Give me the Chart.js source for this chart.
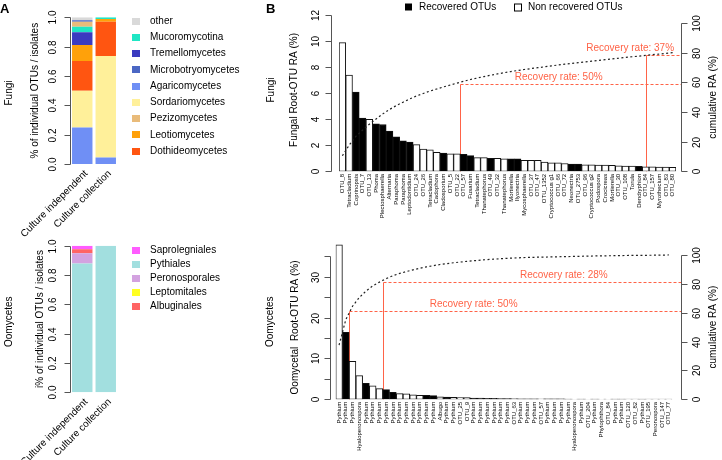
<!DOCTYPE html>
<html>
<head>
<meta charset="utf-8">
<script src="https://cdn.jsdelivr.net/npm/chart.js@4.4.1/dist/chart.umd.min.js"></script>
<style>
  html, body { margin: 0; padding: 0; background: #fff; }
  #wrap { position: relative; width: 722px; height: 460px; overflow: hidden; }
  #wrap canvas { position: absolute; left: 0; top: 0; }
</style>
</head>
<body>
<div id="wrap">
  <canvas id="fungiA" width="722" height="460"></canvas>
  <canvas id="oomA" width="722" height="460"></canvas>
  <canvas id="fungiB" width="722" height="460"></canvas>
  <canvas id="oomB" width="722" height="460"></canvas>
</div>
<script>
// ---- Panel A: share of individual OTUs / isolates per class ----
const sources = ['Culture independent', 'Culture collection'];

// stacking order, bottom to top
const fungiClasses = ['Agaricomycetes', 'Sordariomycetes', 'Dothideomycetes', 'Leotiomycetes',
  'Tremellomycetes', 'Mucoromycotina', 'Pezizomycetes', 'Microbotryomycetes', 'other'];
const fungiIndependent = [0.248, 0.252, 0.202, 0.109, 0.087, 0.038, 0.034, 0.010, 0.020];
const fungiCollection  = [0.045, 0.691, 0.234, 0.019, 0, 0.011, 0, 0, 0];
const fungiLegend = ['other', 'Mucoromycotina', 'Tremellomycetes', 'Microbotryomycetes',
  'Agaricomycetes', 'Sordariomycetes', 'Pezizomycetes', 'Leotiomycetes', 'Dothideomycetes'];

const oomOrders = ['Pythiales', 'Peronosporales', 'Leptomitales', 'Albuginales', 'Saprolegniales'];
const oomIndependent = [0.878, 0.070, 0, 0.027, 0.025];
const oomCollection  = [1, 0, 0, 0, 0];
const oomLegend = ['Saprolegniales', 'Pythiales', 'Peronosporales', 'Leptomitales', 'Albuginales'];

// ---- Panel B: root OTU relative abundance (%) ----
const fungiOTUs = ['OTU_8', 'Tetracladium', 'Coprinopsis', 'OTU_7', 'OTU_13', 'Phoma',
  'Plectosphaerella', 'Alternaria', 'Paraphoma', 'Paraphoma', 'Leptodontidium', 'OTU_24',
  'OTU_26', 'Tetracladium', 'Cadophora', 'Cladosporium', 'OTU_5', 'OTU_22', 'OTU_57',
  'Fusarium', 'Tetracladium', 'Thanatephorus', 'OTU_49', 'OTU_32', 'Thanatephorus',
  'Mortierella', 'Ilyonectria', 'Mycosphaerella', 'OTU_37', 'OTU_47', 'OTU_1352',
  'Cryptococcus g1', 'OTU_66', 'OTU_72', 'Neonectria', 'OTU_2753', 'OTU_96',
  'Cryptococcus g2', 'Podospora', 'Crocicreas', 'Mortierella', 'OTU_30', 'OTU_108',
  'Torula', 'Dendryphion', 'OTU_84', 'OTU_157', 'Myrothecium', 'OTU_83', 'OTU_80'];
const fungiRA = [9.9, 7.4, 6.1, 4.1, 4.0, 3.65, 3.6, 3.1, 2.65, 2.35, 2.25, 2.05, 1.7, 1.65,
  1.45, 1.4, 1.35, 1.35, 1.3, 1.2, 1.05, 1.05, 1.0, 1.0, 0.95, 0.95, 0.95, 0.85, 0.85, 0.85,
  0.7, 0.65, 0.65, 0.6, 0.55, 0.55, 0.5, 0.5, 0.48, 0.47, 0.45, 0.42, 0.4, 0.4, 0.38, 0.35,
  0.35, 0.33, 0.32, 0.3];
const fungiRecovered = [0, 0, 1, 1, 0, 1, 1, 1, 1, 1, 1, 0, 0, 0, 0, 1, 0, 0, 1, 1, 0, 0, 1, 0,
  0, 1, 1, 0, 0, 0, 0, 0, 0, 0, 1, 1, 0, 0, 0, 0, 0, 0, 0, 0, 1, 0, 0, 0, 0, 0];
const fungiCumulative = [10.5, 17.6, 23.6, 27.8, 31.8, 35.3, 38.8, 41.8, 44.4, 46.7, 48.9,
  50.9, 52.6, 54.2, 55.6, 57.0, 58.3, 59.6, 60.8, 62.0, 63.0, 64.0, 64.9, 65.8, 66.6, 67.4,
  68.1, 68.8, 69.4, 70.0, 70.6, 71.2, 71.8, 72.4, 72.9, 73.4, 73.9, 74.4, 74.9, 75.4, 75.9,
  76.4, 76.9, 77.4, 77.8, 78.3, 78.8, 79.2, 79.7, 80.2];

const oomOTUs = ['Pythium', 'Pythium', 'Pythium', 'Hyaloperonospora', 'Pythium', 'Pythium',
  'Pythium', 'Pythium', 'Pythium', 'Pythium', 'Pythium', 'Pythium', 'Pythium', 'Pythium',
  'Pythium', 'Albugo', 'Pythium', 'Pythium', 'OTU_25', 'OTU_9', 'Pythium', 'Pythium',
  'Pythium', 'Pythium', 'Pythium', 'Pythium', 'OTU_63', 'Pythium', 'Pythium', 'Pythium',
  'OTU_57', 'Pythium', 'Pythium', 'Pythium', 'Pythium', 'Hyaloperonospora', 'Pythium',
  'OTU_204', 'Pythium', 'Phytophthora', 'OTU_84', 'Pythium', 'Pythium', 'OTU_120', 'OTU_82',
  'Pythium', 'OTU_195', 'Peronospora', 'OTU_147', 'OTU_77'];
const oomRA = [37.8, 16.4, 9.3, 5.8, 3.9, 3.3, 2.6, 2.35, 1.7, 1.4, 1.35, 1.1, 1.0, 0.95, 0.9,
  0.6, 0.55, 0.5, 0.45, 0.4, 0.3, 0.28, 0.25, 0.22, 0.2, 0.18, 0.15, 0.14, 0.13, 0.12, 0.1,
  0.1, 0.09, 0.09, 0.08, 0.08, 0.07, 0.07, 0.06, 0.06, 0.05, 0.05, 0.05, 0.04, 0.04, 0.04,
  0.03, 0.03, 0.03, 0.03];
const oomRecovered = [0, 1, 0, 0, 1, 0, 0, 1, 1, 0, 0, 0, 0, 1, 1, 0, 1, 0, 0, 0, 1, 1, 1, 1,
  1, 1, 0, 1, 1, 1, 0, 1, 1, 1, 1, 0, 1, 0, 1, 0, 0, 1, 1, 0, 0, 1, 0, 0, 0, 0];
const oomCumulative = [37.6, 55.2, 64.5, 70.5, 75.0, 78.6, 81.2, 83.6, 85.6, 87.2, 88.5,
  89.7, 90.8, 91.8, 92.6, 93.4, 94.0, 94.6, 95.1, 95.6, 96.0, 96.4, 96.8, 97.1, 97.4, 97.7,
  97.9, 98.1, 98.3, 98.4, 98.5, 98.6, 98.7, 98.8, 98.9, 99.0, 99.1, 99.2, 99.3, 99.4, 99.45,
  99.5, 99.6, 99.65, 99.7, 99.75, 99.8, 99.85, 99.9, 100];

const classColors = {
  other: '#d9d9d9',
  Mucoromycotina: '#1fe6c4',
  Tremellomycetes: '#3b3bc0',
  Microbotryomycetes: '#4b67c4',
  Agaricomycetes: '#6f8ff5',
  Sordariomycetes: '#fff09a',
  Pezizomycetes: '#e9bb7a',
  Leotiomycetes: '#ffa10a',
  Dothideomycetes: '#ff5511',
  Saprolegniales: '#ff5cff',
  Pythiales: '#a2dfdf',
  Peronosporales: '#d3a2e0',
  Leptomitales: '#ffff22',
  Albuginales: '#ff6464'
};

const FONT = '"Liberation Sans", Arial, Helvetica, sans-serif';
const AXIS = '#555';
const RED = '#ff6347';

function snap(v) { return Math.round(v) + 0.5; }

function vText(ctx, text, x, y, size, align) {
  ctx.save();
  ctx.translate(x, y);
  ctx.rotate(-Math.PI / 2);
  ctx.font = size + 'px ' + FONT;
  ctx.textAlign = align || 'center';
  ctx.textBaseline = 'middle';
  ctx.fillStyle = '#000';
  ctx.fillText(text, 0, 0);
  ctx.restore();
}

// R style axis: line only between first and last tick, labels parallel to the axis
function drawAxis(ctx, scale, ax) {
  const ys = ax.ticks.map(v => snap(scale.getPixelForValue(v)));
  ctx.save();
  ctx.strokeStyle = AXIS;
  ctx.lineWidth = 1;
  ctx.beginPath();
  ctx.moveTo(ax.x, Math.min(...ys));
  ctx.lineTo(ax.x, Math.max(...ys));
  ys.forEach(y => { ctx.moveTo(ax.x, y); ctx.lineTo(ax.x + ax.dir * 6, y); });
  ctx.stroke();
  ctx.restore();
  ax.ticks.forEach((v, i) => {
    if (ax.labels.includes(v)) vText(ctx, ax.fmt ? ax.fmt(v) : String(v), ax.labelX, ys[i], 10);
  });
}

function panelADecor(o) {
  return {
    id: 'decorA',
    afterDraw(chart) {
      const { ctx, chartArea: a, scales: { x, y } } = chart;
      const ticks = [0, 0.2, 0.4, 0.6, 0.8, 1];
      drawAxis(ctx, y, { x: 70.5, dir: -1, ticks, labels: ticks, labelX: 53, fmt: v => v.toFixed(1) });
      vText(ctx, o.title, o.titleX, (a.top + a.bottom) / 2, 10);
      vText(ctx, o.group, 9, o.groupY, 10);

      ctx.save();
      ctx.font = '10px ' + FONT;
      ctx.fillStyle = '#000';
      sources.forEach((s, i) => {
        ctx.save();
        ctx.translate(x.getPixelForValue(i) + 4, a.bottom + 8);
        ctx.rotate(-Math.PI / 4);
        ctx.textAlign = 'right';
        ctx.textBaseline = 'middle';
        ctx.fillText(s, 0, 0);
        ctx.restore();
      });
      ctx.textAlign = 'left';
      ctx.textBaseline = 'middle';
      o.legend.forEach((name, i) => {
        const cy = o.legendTop + i * o.legendStep;
        ctx.fillStyle = classColors[name];
        ctx.fillRect(132, Math.round(cy - 3.5), 8, 7);
        ctx.fillStyle = '#000';
        ctx.fillText(name, 150, cy);
      });
      if (o.letter) {
        ctx.font = 'bold 13px ' + FONT;
        ctx.fillText(o.letter, 0, 9);
      }
      ctx.restore();
    }
  };
}

function stackedChart(id, classes, indep, coll, pad, decor) {
  return new Chart(document.getElementById(id), {
    type: 'bar',
    data: {
      labels: sources,
      datasets: classes.map((c, i) => ({
        label: c,
        data: [indep[i], coll[i]],
        backgroundColor: classColors[c],
        borderWidth: 0,
        barPercentage: 0.87,
        categoryPercentage: 1
      }))
    },
    options: {
      responsive: false,
      animation: false,
      layout: { padding: pad },
      plugins: { legend: { display: false }, tooltip: { enabled: false } },
      scales: {
        x: { stacked: true, display: false },
        y: { stacked: true, display: false, min: 0, max: 1 }
      }
    },
    plugins: [panelADecor(decor)]
  });
}

function panelBDecor(o) {
  return {
    id: 'decorB',
    beforeDatasetsDraw(chart) {
      const { ctx, chartArea: a, scales: { x, y2 } } = chart;
      ctx.save();
      ctx.strokeStyle = RED;
      ctx.fillStyle = RED;
      ctx.lineWidth = 1;
      ctx.font = '10px ' + FONT;
      ctx.textAlign = 'center';
      ctx.textBaseline = 'middle';
      o.recovery.forEach(r => {
        const px = snap(x.getPixelForValue(r.after));
        const py = snap(y2.getPixelForValue(r.level));
        ctx.setLineDash([]);
        ctx.beginPath(); ctx.moveTo(px, a.bottom); ctx.lineTo(px, py); ctx.stroke();
        ctx.setLineDash([3, 2]);
        ctx.beginPath(); ctx.moveTo(px, py); ctx.lineTo(o.rightX, py); ctx.stroke();
        ctx.fillText(r.text, x.getPixelForValue(r.textAt), py - 7);
      });
      ctx.restore();
    },
    afterDraw(chart) {
      const { ctx, chartArea: a, scales: { x, y, y2 } } = chart;
      drawAxis(ctx, y, { x: o.leftX, dir: -1, ticks: o.leftTicks, labels: o.leftLabels, labelX: 316 });
      const pct = [0, 20, 40, 60, 80, 100];
      drawAxis(ctx, y2, { x: o.rightX, dir: 1, ticks: pct, labels: pct, labelX: 697 });
      const midL = (y.getPixelForValue(0) + y.getPixelForValue(o.leftTicks[o.leftTicks.length - 1])) / 2;
      const midR = (y2.getPixelForValue(0) + y2.getPixelForValue(100)) / 2;
      vText(ctx, o.group, o.groupX, o.groupY, 10);
      vText(ctx, o.title, o.titleX, o.titleY || midL, 10);
      vText(ctx, 'cumulative RA (%)', 713, midR, 10);

      ctx.save();
      ctx.fillStyle = '#000';
      o.names.forEach((n, i) => {
        ctx.save();
        ctx.translate(x.getPixelForValue(i), a.bottom + 2.5);
        ctx.rotate(-Math.PI / 2);
        ctx.font = '6px ' + FONT;
        ctx.textAlign = 'right';
        ctx.textBaseline = 'middle';
        ctx.fillText(n, 0, 0);
        ctx.restore();
      });
      if (o.legend) {
        ctx.font = '10px ' + FONT;
        ctx.textAlign = 'left';
        ctx.textBaseline = 'middle';
        ctx.fillRect(405, 3.5, 7, 7);
        ctx.fillText('Recovered OTUs', 419, 7.5);
        ctx.strokeStyle = '#000';
        ctx.lineWidth = 1;
        ctx.strokeRect(514.5, 4, 7, 7);
        ctx.fillText('Non recovered OTUs', 528, 7.5);
        ctx.font = 'bold 13px ' + FONT;
        ctx.fillText('B', 266, 9);
      }
      ctx.restore();
    }
  };
}

function raChart(id, names, ra, recovered, cumulative, pad, yMax, y2Max, decor) {
  return new Chart(document.getElementById(id), {
    type: 'bar',
    data: {
      labels: names,
      datasets: [
        {
          type: 'line',
          yAxisID: 'y2',
          data: cumulative,
          borderColor: '#222',
          borderWidth: 1.2,
          borderDash: [2, 2.5],
          pointRadius: 0,
          fill: false,
          tension: 0,
          order: 0
        },
        {
          type: 'bar',
          yAxisID: 'y',
          data: ra,
          backgroundColor: recovered.map(r => r ? '#000' : '#fff'),
          borderColor: '#111',
          borderWidth: 1,
          borderSkipped: false,
          barPercentage: 1,
          categoryPercentage: 1,
          order: 1
        }
      ]
    },
    options: {
      responsive: false,
      animation: false,
      layout: { padding: pad },
      plugins: { legend: { display: false }, tooltip: { enabled: false } },
      scales: {
        x: { type: 'category', display: false, offset: true },
        y: { display: false, min: 0, max: yMax },
        y2: { display: false, position: 'right', min: 0, max: y2Max }
      }
    },
    plugins: [panelBDecor(decor)]
  });
}

stackedChart('fungiA', fungiClasses, fungiIndependent, fungiCollection,
  { left: 70.5, right: 604.5, top: 17.3, bottom: 296 },
  { title: '% of individual OTUs / isolates', titleX: 35, group: 'Fungi', groupY: 93,
    legend: fungiLegend, legendTop: 21, legendStep: 16.25, letter: 'A' });

stackedChart('oomA', oomOrders, oomIndependent, oomCollection,
  { left: 70.5, right: 604.5, top: 245.7, bottom: 67.7 },
  { title: 'i% of individual OTUs / isolates', titleX: 40, group: 'Oomycetes', groupY: 321.7,
    legend: oomLegend, legendTop: 250, legendStep: 14 });

raChart('fungiB', fungiOTUs, fungiRA, fungiRecovered, fungiCumulative,
  { left: 339, right: 46, top: 15.3, bottom: 288.7 }, 12, 105.4,
  { names: fungiOTUs, leftX: 331.5, rightX: 681.5,
    leftTicks: [0, 2, 4, 6, 8, 10, 12], leftLabels: [0, 2, 4, 6, 8, 10, 12],
    group: 'Fungi', groupX: 271, groupY: 90,
    title: 'Fungal Root-OTU RA (%)', titleX: 294, titleY: 90,
    legend: true,
    recovery: [
      { after: 17.5, level: 58.8, text: 'Recovery rate: 50%', textAt: 32.1 },
      { after: 45, level: 78.6, text: 'Recovery rate: 37%', textAt: 42.7 }
    ] });

raChart('oomB', oomOTUs, oomRA, oomRecovered, oomCumulative,
  { left: 335.7, right: 49.8, top: 244, bottom: 60.7 }, 38, 107.6,
  { names: oomOTUs, leftX: 330.5, rightX: 681.5,
    leftTicks: [0, 5, 10, 15, 20, 25, 30, 35], leftLabels: [0, 10, 20, 30],
    group: 'Oomycetes', groupX: 270, groupY: 321.7,
    title: 'Oomycetal  Root-OTU RA (%)', titleX: 295, titleY: 327.5,
    legend: false,
    recovery: [
      { after: 1.5, level: 61.2, text: 'Recovery rate: 50%', textAt: 20.0 },
      { after: 6.5, level: 81.1, text: 'Recovery rate: 28%', textAt: 33.4 }
    ] });
</script>
</body>
</html>
